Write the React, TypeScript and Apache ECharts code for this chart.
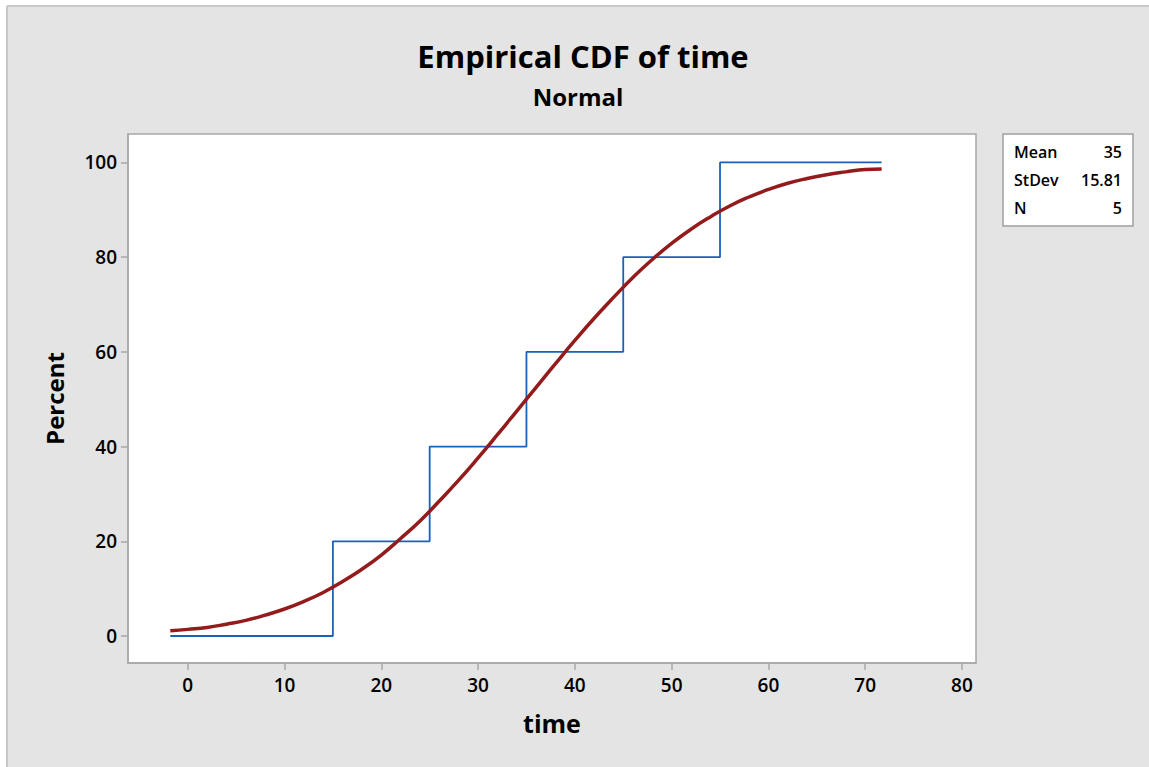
import React, { useEffect, useRef } from "react";
import * as echarts from "echarts";

const stepX = [-1.8, 15, 25, 35, 45, 55, 71.7];
const stepY = [0, 20, 40, 60, 80, 100, 100];

const fitX = [-1.8, 0, 2, 4, 6, 8, 10, 12, 14, 16, 18, 20, 22, 24, 26, 28, 30, 32, 34, 36, 38, 40, 42, 44, 46, 48, 50, 52, 54, 56, 58, 60, 62, 64, 66, 68, 70, 71.7];
const fitY = [1.1, 1.4, 1.8, 2.5, 3.3, 4.4, 5.7, 7.3, 9.2, 11.5, 14.1, 17.1, 20.6, 24.3, 28.5, 32.9, 37.6, 42.5, 47.5, 52.5, 57.5, 62.4, 67.1, 71.5, 75.7, 79.5, 82.9, 85.9, 88.5, 90.8, 92.7, 94.3, 95.6, 96.6, 97.4, 98.0, 98.5, 98.6];

const xTicks = [0, 10, 20, 30, 40, 50, 60, 70, 80];
const yTicks = [0, 20, 40, 60, 80, 100];

const statNames = ["Mean", "StDev", "N"];
const statValues = ["35", "15.81", "5"];

const FONT = "'Open Sans', 'Noto Sans', sans-serif";

export default function App() {
  const ref = useRef<HTMLDivElement>(null);
  useEffect(() => {
    document.body.style.margin = "0";
    const chart = echarts.init(ref.current!, null, { renderer: "svg" });
    const statGraphics: any[] = [];
    statNames.forEach((n, i) => {
      const cy = 152 + i * 28;
      statGraphics.push({
        type: "text",
        x: 1014,
        y: cy,
        style: { text: n, fontSize: 16, fontWeight: 600, fontFamily: FONT, fill: "#000", textAlign: "left", textVerticalAlign: "middle" },
      });
      statGraphics.push({
        type: "text",
        x: 1122,
        y: cy,
        style: { text: statValues[i], fontSize: 16, fontWeight: 600, fontFamily: FONT, fill: "#000", textAlign: "right", textVerticalAlign: "middle" },
      });
    });
    chart.setOption({
      animation: false,
      backgroundColor: "#ffffff",
      textStyle: { fontFamily: FONT },
      title: [
        {
          text: "Empirical CDF of time",
          left: 578,
          top: 35,
          textAlign: "center",
          textStyle: { fontSize: 31, fontWeight: "bold", color: "#000", fontFamily: FONT },
        },
        {
          text: "Normal",
          left: 573,
          top: 79,
          textAlign: "center",
          textStyle: { fontSize: 24, fontWeight: "bold", color: "#000", fontFamily: FONT },
        },
      ],
      graphic: [
        { type: "rect", z: -100, shape: { x: 7, y: 6, width: 1142, height: 761 }, style: { fill: "#e4e4e4" } },
        { type: "line", z: -99, shape: { x1: 7, y1: 6, x2: 7, y2: 767 }, style: { stroke: "#c8c8c8", lineWidth: 2 } },
        { type: "line", z: -99, shape: { x1: 7, y1: 6, x2: 1149, y2: 6 }, style: { stroke: "#c8c8c8", lineWidth: 2 } },
        { type: "rect", shape: { x: 1003, y: 134, width: 130, height: 92 }, style: { fill: "#fff", stroke: "#a0a0a0", lineWidth: 1.5 } },
        ...statGraphics,
      ],
      grid: {
        left: 128,
        right: 173,
        top: 134,
        bottom: 104,
        show: true,
        backgroundColor: "#ffffff",
        borderColor: "#a8a8a8",
        borderWidth: 1.5,
      },
      xAxis: {
        type: "value",
        min: -6.17,
        max: 81.45,
        name: "time",
        nameLocation: "middle",
        nameGap: 47,
        nameTextStyle: { fontSize: 25, fontWeight: "bold", color: "#000", fontFamily: FONT },
        axisLine: { show: true, onZero: false, lineStyle: { color: "#a8a8a8", width: 1.5 } },
        axisTick: { show: true, length: 7, lineStyle: { color: "#a8a8a8", width: 1.5 }, customValues: xTicks },
        axisLabel: { margin: 12, fontSize: 19, fontWeight: 600, color: "#000", fontFamily: FONT, customValues: xTicks },
        splitLine: { show: false },
      },
      yAxis: {
        type: "value",
        min: -5.7,
        max: 106,
        name: "Percent",
        nameLocation: "middle",
        nameGap: 62,
        nameTextStyle: { fontSize: 24, fontWeight: "bold", color: "#000", fontFamily: FONT },
        axisLine: { show: true, onZero: false, lineStyle: { color: "#a8a8a8", width: 1.5 } },
        axisTick: { show: true, length: 7, lineStyle: { color: "#a8a8a8", width: 1.5 }, customValues: yTicks },
        axisLabel: { margin: 11, fontSize: 19, fontWeight: 600, color: "#000", fontFamily: FONT, customValues: yTicks },
        splitLine: { show: false },
      },
      series: [
        {
          type: "line",
          name: "Empirical",
          step: "end",
          data: stepX.map((x, i) => [x, stepY[i]]),
          symbol: "none",
          lineStyle: { color: "#1a62b8", width: 1.8 },
          z: 2,
        },
        {
          type: "line",
          name: "Normal fit",
          data: fitX.map((x, i) => [x, fitY[i]]),
          smooth: true,
          symbol: "none",
          lineStyle: { color: "#931b1b", width: 3.5 },
          z: 3,
        },
      ],
    });
    return () => chart.dispose();
  }, []);
  return <div ref={ref} style={{ width: 1149, height: 767 }} />;
}
